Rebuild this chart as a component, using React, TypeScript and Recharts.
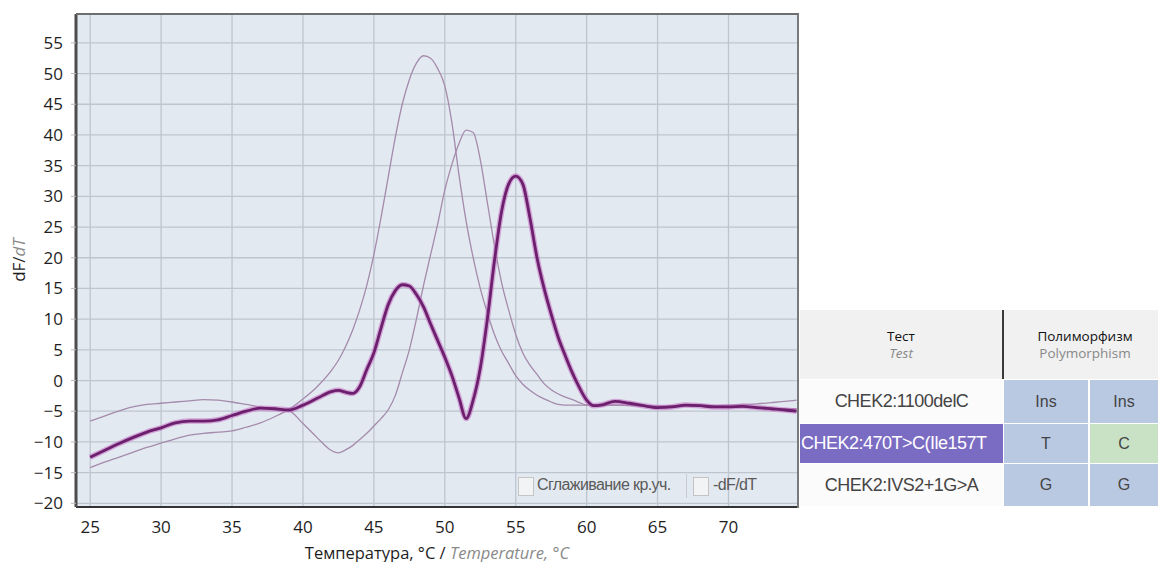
import React from 'react';
import { LineChart, Line, XAxis, YAxis, CartesianGrid } from 'recharts';

// temperature, °C
const temperature = [
  25, 26, 27, 28, 29, 30, 31, 32, 33, 34, 35, 36, 37, 38, 39, 40, 41, 42,
  42.5, 43, 43.5, 44, 44.5, 45, 45.5, 46, 46.5, 47, 47.5, 48, 48.5, 49, 49.5, 50,
  50.5, 51, 51.5, 52, 52.5, 53, 53.5, 54, 54.5, 55, 55.5, 56, 56.5, 57, 57.5, 58,
  58.5, 59, 59.5, 60, 60.5, 61,
  62, 63, 64, 65, 66, 67, 68, 69, 70, 71, 72, 73, 74, 74.8,
];

// highlighted sample (thick curve)
const sampleCurve = [
  -12.5, -11.4, -10.3, -9.3, -8.4, -7.7, -6.9, -6.6, -6.6, -6.4, -5.7, -5.0, -4.5, -4.6, -4.8, -4.0, -2.9, -1.8,
  -1.6, -1.9, -2.1, -1.0, 1.8, 4.5, 8.5, 12.3, 14.6, 15.6, 15.4, 14.0, 12.0, 9.2, 6.5, 3.8,
  0.8, -2.8, -6.2, -3.2, 2.0, 10.0, 19.5, 27.5, 32.0, 33.3, 32.0, 26.5, 20.0, 15.0, 10.8, 7.0,
  4.0, 1.2, -1.2, -3.2, -4.1, -4.0,
  -3.4, -3.7, -4.1, -4.4, -4.3, -4.0, -4.1, -4.3, -4.3, -4.2, -4.4, -4.6, -4.8, -5.0,
];

// control curves (thin)
const controlA = [
  -14.2, -13.3, -12.5, -11.7, -10.9, -10.2, -9.5, -8.9, -8.6, -8.4, -8.2, -7.6, -6.9, -5.9, -4.7, -3.0, -1.0, 1.6,
  3.3, 5.5, 8.2, 11.5, 15.5, 20.5, 26.5, 33.0, 39.5, 45.0, 49.0, 51.7, 52.9, 52.5, 50.8, 48.0,
  42.0, 33.5, 26.0, 20.0, 15.0, 11.0, 7.5, 4.8, 2.8, 0.8, -0.6, -1.6, -2.4, -3.0, -3.5, -3.9,
  -4.0, -4.0, -4.0, -4.0, -4.0, -4.0,
  -4.0, -4.0, -4.1, -4.1, -4.1, -4.0, -4.0, -4.1, -4.0, -3.9, -3.8, -3.6, -3.4, -3.2,
];

const controlB = [
  -6.6, -5.8, -5.0, -4.3, -3.9, -3.7, -3.5, -3.3, -3.1, -3.2, -3.5, -3.9, -4.3, -4.6, -4.9, -7.0, -9.3, -11.4,
  -11.8, -11.3, -10.6, -9.6, -8.6, -7.4, -6.2, -4.8, -2.5, 1.2, 5.0, 10.0, 15.5, 20.5, 25.5, 31.0,
  35.2, 38.6, 40.8, 40.4, 36.0, 29.0, 22.0, 16.0, 11.5, 7.5, 4.5, 2.5, 1.0, -0.5, -1.5, -2.2,
  -2.7, -3.1, -3.6, -4.0, -4.1, -4.1,
  -4.0, -4.1, -4.2, -4.3, -4.3, -4.2, -4.2, -4.3, -4.3, -4.3, -4.4, -4.5, -4.6, -4.6,
];

const xTicks = [25, 30, 35, 40, 45, 50, 55, 60, 65, 70];
const yTicks = [-20, -15, -10, -5, 0, 5, 10, 15, 20, 25, 30, 35, 40, 45, 50, 55];

// results table
const testNames = ['CHEK2:1100delC', 'CHEK2:470T>C(Ile157T', 'CHEK2:IVS2+1G>A'];
const allele1 = ['Ins', 'T', 'G'];
const allele2 = ['Ins', 'C', 'G'];
const selectedRow = 1;

const data = temperature.map((t, i) => ({
  t,
  sample: sampleCurve[i],
  a: controlA[i],
  b: controlB[i],
}));

const FONT = '"Open Sans", "Noto Sans", sans-serif';
const UI_FONT = '"Liberation Sans", Arial, sans-serif';
const tickStyle = { fill: '#1e1e1e', fontSize: 17, fontFamily: FONT };
const minus = (v: number) => String(v).replace('-', '\u2212');

const rowTops = [380, 424, 464];
const rowHeights = [43, 39, 42];

export default function App() {
  return (
    <div style={{ position: 'absolute', left: 0, top: 0, width: 1158, height: 562, background: '#fff', overflow: 'hidden' }}>
      <LineChart width={800} height={562} data={data} margin={{ top: 14, right: 2, bottom: 25, left: 0 }}>
        <CartesianGrid fill="#e3e9f1" stroke="#bdc5cf" strokeWidth={1.3} />
        <XAxis
          dataKey="t"
          type="number"
          height={30}
          domain={[24, 74.9]}
          ticks={xTicks}
          allowDataOverflow
          axisLine={{ stroke: '#333', strokeWidth: 2 }}
          tickLine={false}
          tickMargin={8}
          tick={tickStyle}
        />
        <YAxis
          width={76}
          type="number"
          domain={[-20.6, 59.7]}
          ticks={yTicks}
          allowDataOverflow
          axisLine={{ stroke: '#4d4d4d', strokeWidth: 3 }}
          tickLine={{ stroke: '#b8b8b8' }}
          tickSize={5}
          tickMargin={8}
          tick={tickStyle}
          tickFormatter={minus}
        />
        <Line type="monotone" dataKey="a" stroke="#a48aab" strokeWidth={1.3} dot={false} isAnimationActive={false} />
        <Line type="monotone" dataKey="b" stroke="#a48aab" strokeWidth={1.3} dot={false} isAnimationActive={false} />
        <Line type="monotone" dataKey="sample" stroke="#c774c6" strokeOpacity={0.6} strokeWidth={5.5} dot={false} isAnimationActive={false} />
        <Line type="monotone" dataKey="sample" stroke="#6b1f6c" strokeWidth={2.8} dot={false} isAnimationActive={false} />
      </LineChart>

      {/* plot frame top/right */}
      <div style={{ position: 'absolute', left: 76, top: 13, width: 721, height: 493, borderTop: '2px solid #6e6e6e', borderRight: '2px solid #7a7a7a', pointerEvents: 'none' }} />

      {/* checkboxes in plot corner */}
      <div style={{ position: 'absolute', left: 518, top: 477, width: 14, height: 17, border: '1px solid #c4c4c4', background: '#f2f3f5' }} />
      <div style={{ position: 'absolute', left: 537, top: 476, fontSize: 16, fontFamily: UI_FONT, color: '#5a5a5a', letterSpacing: -0.6 }}>Сглаживание кр.уч.</div>
      <div style={{ position: 'absolute', left: 686, top: 474, width: 1, height: 24, background: '#c8ccd2' }} />
      <div style={{ position: 'absolute', left: 693, top: 477, width: 14, height: 17, border: '1px solid #c4c4c4', background: '#f2f3f5' }} />
      <div style={{ position: 'absolute', left: 713, top: 476, fontSize: 16, fontFamily: UI_FONT, color: '#5a5a5a', letterSpacing: -0.6 }}>-dF/dT</div>

      {/* axis titles */}
      <div style={{ position: 'absolute', left: 18, top: 260, transform: 'translate(-50%, -50%) rotate(-90deg)', whiteSpace: 'nowrap', fontSize: 17, fontFamily: FONT, color: '#1e1e1e' }}>
        dF/<span style={{ fontStyle: 'italic', color: '#8a8a8a' }}>dT</span>
      </div>
      <div style={{ position: 'absolute', left: 437, top: 552, transform: 'translate(-50%, -50%)', whiteSpace: 'nowrap', fontSize: 16.5, fontFamily: FONT, color: '#1e1e1e' }}>
        Температура, °C / <span style={{ fontStyle: 'italic', color: '#8a8a8a' }}>Temperature, °C</span>
      </div>

      {/* results table */}
      <div style={{ position: 'absolute', left: 800, top: 310, width: 202, height: 69, background: '#f1f1f1', display: 'flex', flexDirection: 'column', alignItems: 'center', justifyContent: 'center', fontFamily: FONT, fontSize: 13.5, lineHeight: '17px' }}>
        <span style={{ color: '#111' }}>Тест</span>
        <span style={{ color: '#888', fontStyle: 'italic' }}>Test</span>
      </div>
      <div style={{ position: 'absolute', left: 1002, top: 310, width: 2, height: 69, background: '#3a3a3a' }} />
      <div style={{ position: 'absolute', left: 1004, top: 310, width: 154, height: 69, background: '#f1f1f1', display: 'flex', flexDirection: 'column', alignItems: 'center', justifyContent: 'center', fontFamily: FONT, fontSize: 13.5, lineHeight: '17px', paddingLeft: 8, boxSizing: 'border-box' }}>
        <span style={{ color: '#111' }}>Полиморфизм</span>
        <span style={{ color: '#888' }}>Polymorphism</span>
      </div>
      {testNames.map((name, i) => {
        const sel = i === selectedRow;
        const cell = { position: 'absolute' as const, top: rowTops[i], height: rowHeights[i], display: 'flex', alignItems: 'center', fontFamily: UI_FONT, fontSize: 16, color: '#444' };
        return (
          <React.Fragment key={name}>
            <div style={{ ...cell, left: 800, width: 203, overflow: 'hidden', whiteSpace: 'nowrap', background: sel ? '#7b6cc3' : '#fbfbfb', color: sel ? '#fff' : '#444', justifyContent: sel ? 'flex-start' : 'center', paddingLeft: sel ? 1 : 0, boxSizing: 'border-box', fontSize: 18, letterSpacing: -0.5 }}>
              {name}
            </div>
            <div style={{ ...cell, left: 1004, width: 84, justifyContent: 'center', background: '#bac9e2' }}>{allele1[i]}</div>
            <div style={{ ...cell, left: 1090, width: 68, justifyContent: 'center', background: allele2[i] !== allele1[i] ? '#c9e2c5' : '#bac9e2' }}>{allele2[i]}</div>
          </React.Fragment>
        );
      })}
    </div>
  );
}
